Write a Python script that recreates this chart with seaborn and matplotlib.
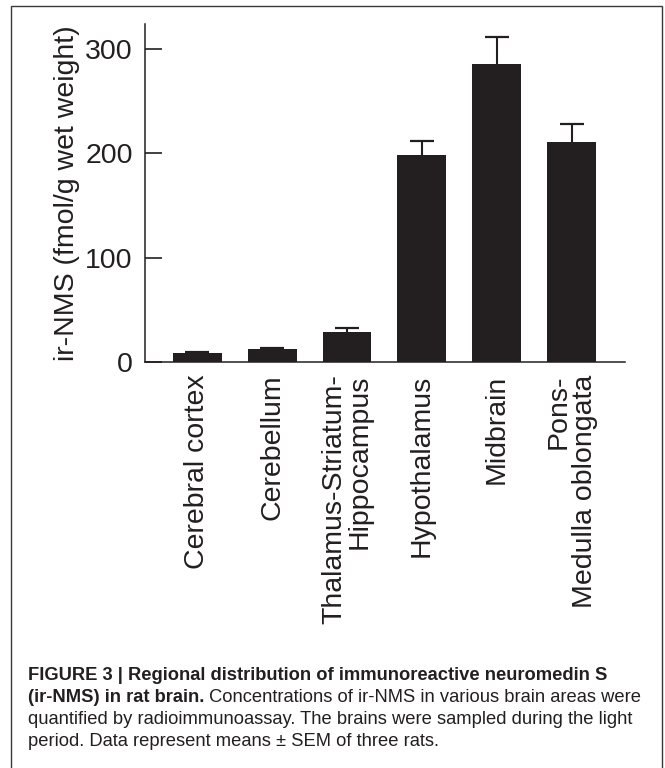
import numpy as np
import pandas as pd
import matplotlib
matplotlib.use("Agg")
import matplotlib.pyplot as plt
from matplotlib.patches import Rectangle
import seaborn as sns

# ---- data ----
regions = ["Cerebral cortex", "Cerebellum", "Thalamus-Striatum-\nHippocampus",
           "Hypothalamus", "Midbrain", "Pons-\nMedulla oblongata"]
means = [8.3, 12.1, 28.3, 198.5, 285.7, 210.5]
sems = [1.0, 1.2, 4.1, 13.7, 26.2, 17.9]
yticks = [0, 100, 200, 300]
ylabel = "ir-NMS (fmol/g wet weight)"
cap_line1 = "FIGURE 3 | Regional distribution of immunoreactive neuromedin S"
cap_line2_bold = "(ir-NMS) in rat brain."
cap_line2_reg = " Concentrations of ir-NMS in various brain areas were"
cap_line3 = "quantified by radioimmunoassay. The brains were sampled during the light"
cap_line4 = "period. Data represent means \u00b1 SEM of three rats."

sns.set_style("white")
plt.rcParams["font.family"] = ["Liberation Sans", "DejaVu Sans"]
INK = "#231f20"
W, H = 665, 768

fig = plt.figure(figsize=(W / 100, H / 100), dpi=100)
fig.patch.set_facecolor("white")
ax = fig.add_axes([145.3 / W, 1 - 362 / H, (625 - 145.3) / W, (362 - 24) / H])

df = pd.DataFrame({"region": regions, "value": means})
sns.barplot(data=df, x="region", y="value", color=INK, saturation=1,
            width=0.654, errorbar=None, ax=ax, zorder=2,
            edgecolor=INK, linewidth=0)

x = np.arange(len(regions))
eb = ax.errorbar(x, means, yerr=[np.zeros(len(sems)), sems], fmt="none",
                 ecolor=INK, elinewidth=1.5, capsize=8.7, capthick=1.6, zorder=1)
eb[1][0].set_visible(False)

ax.set_xlim(-0.693, 5.712)
ax.set_ylim(0, 324)
ax.set_yticks(yticks)
ax.set_xticks(x)
ax.set_xticklabels(regions, rotation=90, ha="center", va="top",
                   multialignment="right", linespacing=1.0)
ax.tick_params(axis="y", direction="in", length=12, width=1.2, pad=9,
               labelsize=20.5, colors=INK, left=True)
ax.tick_params(axis="x", length=0, pad=9, labelsize=20.5, colors=INK)
ax.set_xlabel("")
ax.set_ylabel(ylabel, fontsize=20.5, labelpad=4, color=INK)
for s in ["top", "right"]:
    ax.spines[s].set_visible(False)
for s in ["left", "bottom"]:
    ax.spines[s].set_color(INK)
    ax.spines[s].set_linewidth(1.1)

# frame around the figure panel
fig.patches.append(Rectangle((11 / W, -0.02), (661.5 - 11) / W, (1 - 6 / H) + 0.02,
                             transform=fig.transFigure, fill=False,
                             edgecolor="#3a3a3a", linewidth=1.0))

# caption
cap_fs = 13.2
renderer = fig.canvas.get_renderer()


def put(xpx, ybase, s, weight):
    return fig.text(xpx / W, 1 - ybase / H, s, fontsize=cap_fs, fontweight=weight,
                    va="baseline", ha="left", color=INK)


put(28, 680, cap_line1, "bold")
t = put(28, 702, cap_line2_bold, "bold")
bb = t.get_window_extent(renderer)
put(bb.x1, 702, cap_line2_reg, "normal")
put(28, 724, cap_line3, "normal")
put(28, 746, cap_line4, "normal")

fig.savefig("out.png", dpi=100)
